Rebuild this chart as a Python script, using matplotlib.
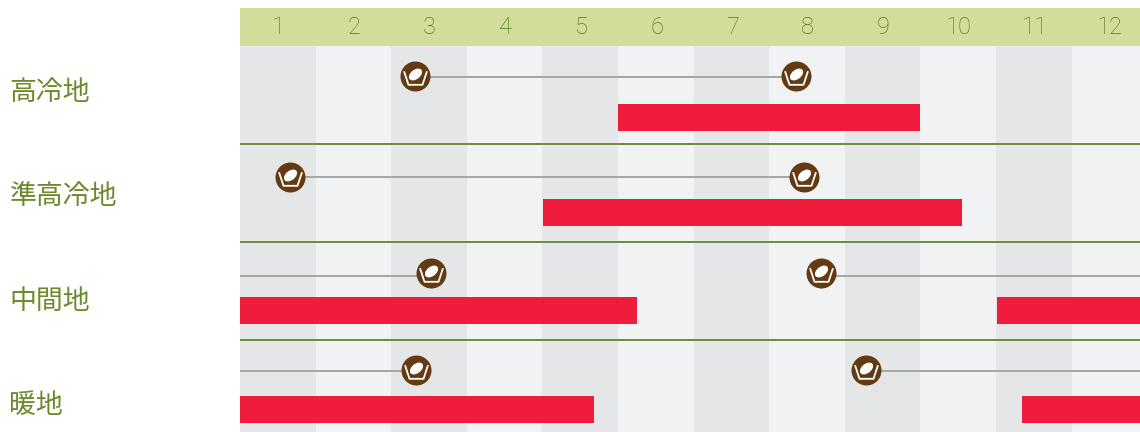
import numpy as np
import matplotlib
matplotlib.use('Agg')
import matplotlib.pyplot as plt
from matplotlib.path import Path
from matplotlib.transforms import Affine2D

plt.rcParams['font.family'] = ['Noto Sans CJK JP', 'DejaVu Sans']

# month scale: month m is centred on m, so a column runs m-0.5 to m+0.5
months = list(range(1, 13))
regions = ['高冷地', '準高冷地', '中間地', '暖地']

# sowing lines (start, end) per region
sow_lines = [
    [(2.82, 7.86)],
    [(1.16, 7.96)],
    [(0.5, 3.02), (8.19, 12.5)],
    [(0.5, 2.83), (8.78, 12.5)],
]
# icons sit on the sowing dates
sow_icons = [
    [2.82, 7.86],
    [1.16, 7.96],
    [3.02, 8.19],
    [2.83, 8.78],
]
# harvest bars (start, end) per region
harvest_bars = [
    [(5.5, 9.49)],
    [(4.51, 10.05)],
    [(0.5, 5.75), (10.51, 12.5)],
    [(0.5, 5.18), (10.84, 12.5)],
]

# layout in pixels, y axis runs top-down like the picture
W, H = 1140, 432
left = 240
col_w = 75.6
line_y = [77, 177, 275.5, 371]
icon_y = [76, 177, 273, 370]
bar_top = [104, 199, 297, 396]
bar_h = 27
label_y = [93, 197, 301, 405]
sep_y = [144, 242, 340]

GREEN = '#6d8a2b'
BROWN = '#643a13'
RED = '#f01c3c'

fig = plt.figure(figsize=(W / 100, H / 100), dpi=100)
ax = fig.add_axes([left / W, 0, (W - left) / W, 1])
ax.set_xlim(0.5, 0.5 + (W - left) / col_w)
ax.set_ylim(H, 0)
ax.axis('off')

# columns and header
for m in months:
    c = '#e5e6e8' if m % 2 == 1 else '#f1f2f4'
    ax.fill_between([m - 0.5, m + 0.5], 46, H, color=c, lw=0, zorder=1)
    ax.text(m + 0.01, 27.5, str(m), color='#5a7a18', fontsize=17, family=['Roboto', 'DejaVu Sans'],
            fontweight='light', ha='center', va='center', zorder=5)
ax.fill_between([0.5, 12.5], 8, 46, color='#d3dd9b', lw=0, zorder=1)

for y in sep_y:
    ax.plot([0.5, 12.5], [y, y], color='#6f8a3c', lw=1.4, zorder=2, solid_capstyle='butt')

# icon parts, units are pixels from the icon centre, y up
bowl = Path([(-11.5, 5.3), (-7, -8.3), (7, -8.3), (11.5, 5.3)])
seed = Path.unit_circle().transformed(Affine2D().scale(7.5, 4.7).rotate_deg(38).translate(0, 2))


def marker_size(path):
    # matplotlib scales a custom marker by its largest coordinate
    return 2 * np.abs(path.vertices).max() * 0.72


for i in range(len(regions)):
    ax.text(-2.55, label_y[i], regions[i], color=GREEN, fontsize=19.4, ha='left', va='center',
            clip_on=False, zorder=5)
    for a, b in sow_lines[i]:
        ax.plot([a, b], [line_y[i], line_y[i]], color='#a5a5a5', lw=1.4, zorder=3, solid_capstyle='butt')
    for a, b in harvest_bars[i]:
        ax.fill_between([a, b], bar_top[i], bar_top[i] + bar_h, color=RED, lw=0, zorder=3)
    for x in sow_icons[i]:
        ax.plot(x, icon_y[i], 'o', ms=30 * 0.72, mfc=BROWN, mec='none', zorder=4, clip_on=False)
        ax.plot(x, icon_y[i], marker=bowl, ms=marker_size(bowl), mfc='none', mec='white', mew=1.3, zorder=5)
        ax.plot(x, icon_y[i], marker=seed, ms=marker_size(seed), mfc='white', mec='none', zorder=5)

fig.savefig('out.png', dpi=100)
